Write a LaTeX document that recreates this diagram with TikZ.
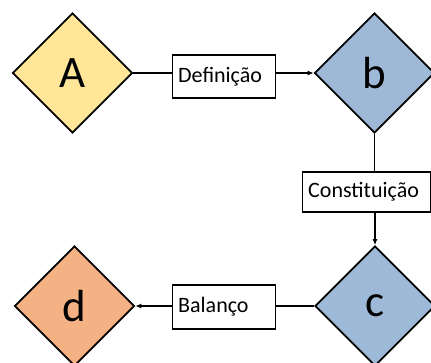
\documentclass[tikz,border=0pt]{standalone}
\usepackage{fontspec}
\setmainfont{Carlito}
\usetikzlibrary{shapes.geometric,arrows.meta}
\definecolor{ayel}{HTML}{FFE699}
\definecolor{bblue}{HTML}{9DB9D7}
\definecolor{dorg}{HTML}{F4B183}
\begin{document}
\begin{tikzpicture}[x=1pt,y=-1pt,
  dia/.style={diamond,draw,line width=1.7pt,minimum width=120pt,minimum height=120pt,inner sep=0pt,font=\fontsize{45}{45}\selectfont},
  lbl/.style={draw,line width=1.4pt,fill=white,minimum height=#1,inner ysep=0pt,inner xsep=5.5pt,align=left,anchor=west,font=\fontsize{22}{24}\selectfont},
  con/.style={line width=1.7pt},
  arr/.style={con,-{Latex[length=6pt,width=5pt]}}]
\clip (0,0) rectangle (431,362);
\node[dia,fill=ayel] (A) at (72.5,73) {\raisebox{-2pt}{A}};
\node[dia,fill=bblue] (b) at (374.5,73) {\raisebox{-2pt}{b}};
\node[dia,fill=bblue] (c) at (375,306) {\raisebox{-2pt}{c}};
\node[dia,fill=dorg] (d) at (74.5,306) {\raisebox{-2pt}{d}};
\node[lbl=43pt,text width=92pt] (def) at (172,76.5) {Definição};
\node[lbl=40pt,text width=117pt] (con) at (302,192) {Constituição};
\node[lbl=44pt,text width=92pt] (bal) at (172,307) {Balanço};
\draw[con] (A.east) -- (A.east -| def.west);
\draw[arr] (b.west -| def.east) -- (b.west);
\draw[con] (b.south) -- (b.south |- con.north);
\draw[arr] (c.north |- con.south) -- (c.north);
\draw[con] (c.west) -- (c.west -| bal.east);
\draw[arr] (d.east -| bal.west) -- (d.east);
\end{tikzpicture}
\end{document}
